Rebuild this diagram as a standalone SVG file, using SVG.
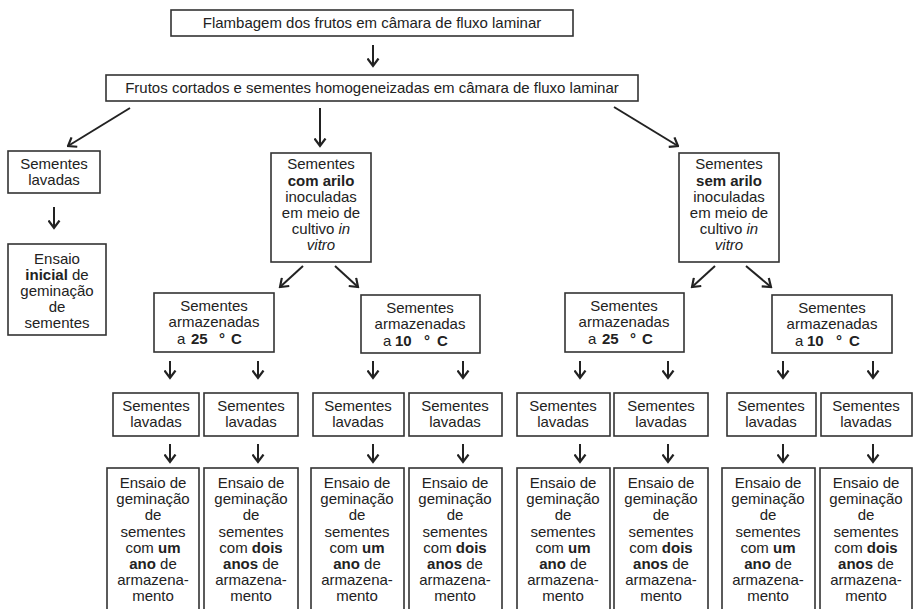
<svg xmlns="http://www.w3.org/2000/svg" width="916" height="609" viewBox="0 0 916 609">
<defs>
<style>
.box{fill:#fff;stroke:#333;stroke-width:1.6}
text{font-family:"Liberation Sans",Arial,sans-serif;font-size:15px;fill:#222}
.c{text-anchor:middle}
.b{font-weight:bold}
.i{font-style:italic}
.con line{stroke:#222;stroke-width:2;marker-end:url(#ah)}
</style>
<marker id="ah" viewBox="0 0 10 13" refX="8.5" refY="6.5" markerWidth="10" markerHeight="13" markerUnits="userSpaceOnUse" orient="auto">
<path d="M1,1 L8.5,6.5 L1,12" fill="none" stroke="#222" stroke-width="2.2"/>
</marker>
</defs>
<rect width="916" height="609" fill="#fff"/>

<g id="connectors" class="con">
<line x1="373" y1="45" x2="373" y2="66"/>
<line x1="130" y1="108" x2="68" y2="146"/>
<line x1="320" y1="108" x2="320" y2="146"/>
<line x1="614" y1="107" x2="678" y2="146"/>
<line x1="54" y1="207" x2="54" y2="228"/>
<line x1="303" y1="266" x2="280" y2="287"/>
<line x1="335" y1="266" x2="358" y2="287"/>
<line x1="715" y1="266" x2="692" y2="287"/>
<line x1="746" y1="266" x2="771" y2="287"/>
<line x1="170" y1="361" x2="170" y2="378"/>
<line x1="258" y1="361" x2="258" y2="378"/>
<line x1="373" y1="361" x2="373" y2="378"/>
<line x1="463" y1="361" x2="463" y2="378"/>
<line x1="580" y1="361" x2="580" y2="378"/>
<line x1="668" y1="361" x2="668" y2="378"/>
<line x1="783" y1="361" x2="783" y2="378"/>
<line x1="873" y1="361" x2="873" y2="378"/>
<line x1="170" y1="444" x2="170" y2="462"/>
<line x1="258" y1="444" x2="258" y2="462"/>
<line x1="373" y1="444" x2="373" y2="462"/>
<line x1="463" y1="444" x2="463" y2="462"/>
<line x1="580" y1="444" x2="580" y2="462"/>
<line x1="668" y1="444" x2="668" y2="462"/>
<line x1="783" y1="444" x2="783" y2="462"/>
<line x1="873" y1="444" x2="873" y2="462"/>
</g>

<g id="n-flambagem">
<rect class="box" x="171" y="10" width="402" height="26"/>
<text class="c" x="372" y="28">Flambagem dos frutos em câmara de fluxo laminar</text>
</g>
<g id="n-cortados">
<rect class="box" x="106" y="75" width="532" height="26"/>
<text class="c" x="372" y="93">Frutos cortados e sementes homogeneizadas em câmara de fluxo laminar</text>
</g>

<g id="n-lavadas0">
<rect class="box" x="8" y="151" width="92" height="42"/>
<text class="c" x="54" y="169">Sementes</text>
<text class="c" x="54" y="185">lavadas</text>
</g>
<g id="n-inicial">
<rect class="box" x="8" y="244" width="98" height="91"/>
<text class="c" x="57" y="264">Ensaio</text>
<text class="c" x="57" y="280"><tspan class="b">inicial</tspan> de</text>
<text class="c" x="57" y="296">geminação</text>
<text class="c" x="57" y="312">de</text>
<text class="c" x="57" y="328">sementes</text>
</g>

<g id="n-comarilo">
<rect class="box" x="271" y="153" width="100" height="109"/>
<text class="c" x="321" y="169">Sementes</text>
<text class="c b" x="321" y="186">com arilo</text>
<text class="c" x="321" y="202">inoculadas</text>
<text class="c" x="321" y="218">em meio de</text>
<text class="c" x="321" y="234">cultivo <tspan class="i">in</tspan></text>
<text class="c i" x="321" y="250">vitro</text>
</g>
<g id="n-semarilo">
<rect class="box" x="679" y="153" width="100" height="109"/>
<text class="c" x="729" y="169">Sementes</text>
<text class="c b" x="729" y="186">sem arilo</text>
<text class="c" x="729" y="202">inoculadas</text>
<text class="c" x="729" y="218">em meio de</text>
<text class="c" x="729" y="234">cultivo <tspan class="i">in</tspan></text>
<text class="c i" x="729" y="250">vitro</text>
</g>

<g id="n-c25a">
<rect class="box" x="154" y="293" width="120" height="59"/>
<text class="c" x="214" y="311">Sementes</text>
<text class="c" x="214" y="327">armazenadas</text>
<text x="177" y="344">a <tspan class="b" x="191">25</tspan><tspan class="b" x="219">°</tspan><tspan class="b" x="231">C</tspan></text>
</g>
<g id="n-c10a">
<rect class="box" x="361" y="295" width="119" height="58"/>
<text class="c" x="420" y="313">Sementes</text>
<text class="c" x="420" y="329">armazenadas</text>
<text x="383" y="346">a <tspan class="b" x="395">10</tspan><tspan class="b" x="424">°</tspan><tspan class="b" x="437">C</tspan></text>
</g>
<g id="n-c25b">
<rect class="box" x="565" y="293" width="119" height="59"/>
<text class="c" x="624" y="311">Sementes</text>
<text class="c" x="624" y="327">armazenadas</text>
<text x="588" y="344">a <tspan class="b" x="602">25</tspan><tspan class="b" x="630">°</tspan><tspan class="b" x="642">C</tspan></text>
</g>
<g id="n-c10b">
<rect class="box" x="772" y="295" width="120" height="58"/>
<text class="c" x="832" y="313">Sementes</text>
<text class="c" x="832" y="329">armazenadas</text>
<text x="795" y="346">a <tspan class="b" x="807">10</tspan><tspan class="b" x="836">°</tspan><tspan class="b" x="849">C</tspan></text>
</g>

<g id="n-lav1"><rect class="box" x="113" y="393" width="86" height="43"/><text class="c" x="156" y="411">Sementes</text><text class="c" x="156" y="427">lavadas</text></g>
<g id="n-lav2"><rect class="box" x="204" y="393" width="94" height="43"/><text class="c" x="251" y="411">Sementes</text><text class="c" x="251" y="427">lavadas</text></g>
<g id="n-lav3"><rect class="box" x="313" y="393" width="91" height="43"/><text class="c" x="358" y="411">Sementes</text><text class="c" x="358" y="427">lavadas</text></g>
<g id="n-lav4"><rect class="box" x="409" y="393" width="93" height="43"/><text class="c" x="455" y="411">Sementes</text><text class="c" x="455" y="427">lavadas</text></g>
<g id="n-lav5"><rect class="box" x="517" y="393" width="93" height="43"/><text class="c" x="563" y="411">Sementes</text><text class="c" x="563" y="427">lavadas</text></g>
<g id="n-lav6"><rect class="box" x="614" y="393" width="94" height="43"/><text class="c" x="661" y="411">Sementes</text><text class="c" x="661" y="427">lavadas</text></g>
<g id="n-lav7"><rect class="box" x="727" y="393" width="89" height="43"/><text class="c" x="771" y="411">Sementes</text><text class="c" x="771" y="427">lavadas</text></g>
<g id="n-lav8"><rect class="box" x="821" y="393" width="91" height="43"/><text class="c" x="866" y="411">Sementes</text><text class="c" x="866" y="427">lavadas</text></g>

<g id="n-ens1">
<rect class="box" x="107" y="468" width="92" height="160"/>
<text class="c" x="153" y="488">Ensaio de</text><text class="c" x="153" y="504">geminação</text><text class="c" x="153" y="520">de</text><text class="c" x="153" y="537">sementes</text>
<text class="c" x="153" y="553">com <tspan class="b">um</tspan></text><text class="c" x="153" y="569"><tspan class="b">ano</tspan> de</text><text class="c" x="153" y="585">armazena-</text><text class="c" x="153" y="601">mento</text>
</g>
<g id="n-ens2">
<rect class="box" x="204" y="468" width="94" height="160"/>
<text class="c" x="251" y="488">Ensaio de</text><text class="c" x="251" y="504">geminação</text><text class="c" x="251" y="520">de</text><text class="c" x="251" y="537">sementes</text>
<text class="c" x="251" y="553">com <tspan class="b">dois</tspan></text><text class="c" x="251" y="569"><tspan class="b">anos</tspan> de</text><text class="c" x="251" y="585">armazena-</text><text class="c" x="251" y="601">mento</text>
</g>
<g id="n-ens3">
<rect class="box" x="311" y="468" width="93" height="160"/>
<text class="c" x="357" y="488">Ensaio de</text><text class="c" x="357" y="504">geminação</text><text class="c" x="357" y="520">de</text><text class="c" x="357" y="537">sementes</text>
<text class="c" x="357" y="553">com <tspan class="b">um</tspan></text><text class="c" x="357" y="569"><tspan class="b">ano</tspan> de</text><text class="c" x="357" y="585">armazena-</text><text class="c" x="357" y="601">mento</text>
</g>
<g id="n-ens4">
<rect class="box" x="409" y="468" width="93" height="160"/>
<text class="c" x="455" y="488">Ensaio de</text><text class="c" x="455" y="504">geminação</text><text class="c" x="455" y="520">de</text><text class="c" x="455" y="537">sementes</text>
<text class="c" x="455" y="553">com <tspan class="b">dois</tspan></text><text class="c" x="455" y="569"><tspan class="b">anos</tspan> de</text><text class="c" x="455" y="585">armazena-</text><text class="c" x="455" y="601">mento</text>
</g>
<g id="n-ens5">
<rect class="box" x="517" y="468" width="93" height="160"/>
<text class="c" x="563" y="488">Ensaio de</text><text class="c" x="563" y="504">geminação</text><text class="c" x="563" y="520">de</text><text class="c" x="563" y="537">sementes</text>
<text class="c" x="563" y="553">com <tspan class="b">um</tspan></text><text class="c" x="563" y="569"><tspan class="b">ano</tspan> de</text><text class="c" x="563" y="585">armazena-</text><text class="c" x="563" y="601">mento</text>
</g>
<g id="n-ens6">
<rect class="box" x="614" y="468" width="94" height="160"/>
<text class="c" x="661" y="488">Ensaio de</text><text class="c" x="661" y="504">geminação</text><text class="c" x="661" y="520">de</text><text class="c" x="661" y="537">sementes</text>
<text class="c" x="661" y="553">com <tspan class="b">dois</tspan></text><text class="c" x="661" y="569"><tspan class="b">anos</tspan> de</text><text class="c" x="661" y="585">armazena-</text><text class="c" x="661" y="601">mento</text>
</g>
<g id="n-ens7">
<rect class="box" x="722" y="468" width="93" height="160"/>
<text class="c" x="768" y="488">Ensaio de</text><text class="c" x="768" y="504">geminação</text><text class="c" x="768" y="520">de</text><text class="c" x="768" y="537">sementes</text>
<text class="c" x="768" y="553">com <tspan class="b">um</tspan></text><text class="c" x="768" y="569"><tspan class="b">ano</tspan> de</text><text class="c" x="768" y="585">armazena-</text><text class="c" x="768" y="601">mento</text>
</g>
<g id="n-ens8">
<rect class="box" x="820" y="468" width="92" height="160"/>
<text class="c" x="866" y="488">Ensaio de</text><text class="c" x="866" y="504">geminação</text><text class="c" x="866" y="520">de</text><text class="c" x="866" y="537">sementes</text>
<text class="c" x="866" y="553">com <tspan class="b">dois</tspan></text><text class="c" x="866" y="569"><tspan class="b">anos</tspan> de</text><text class="c" x="866" y="585">armazena-</text><text class="c" x="866" y="601">mento</text>
</g>
</svg>
